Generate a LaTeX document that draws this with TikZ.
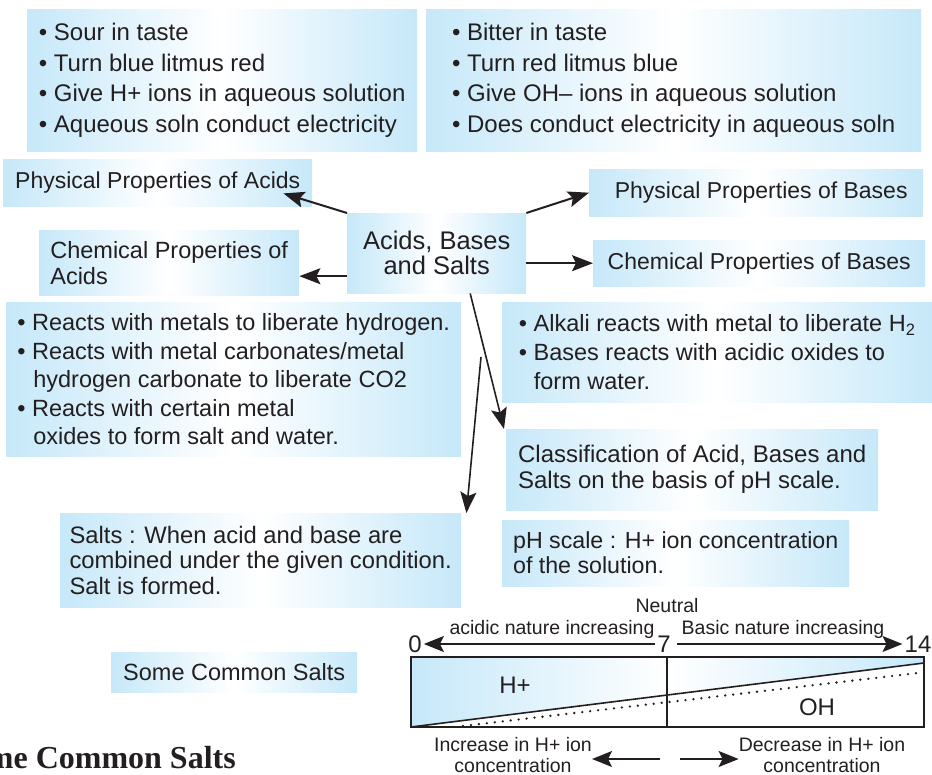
\documentclass[tikz,border=0pt]{standalone}
\usepackage{fontspec}
\setmainfont{Liberation Sans}
\newfontfamily\headserif{Liberation Serif}
\usetikzlibrary{arrows.meta, calc, positioning}
\definecolor{boxblue}{RGB}{198,232,249}
\definecolor{inkgray}{RGB}{35,31,32}

\begin{document}
\begin{tikzpicture}[x=1pt, y=-1pt,
    infobox/.style={anchor=north west, left color=boxblue, right color=boxblue, middle color=white, inner sep=0pt, align=left, text=inkgray},
    body/.style={font=\fontsize{23.5}{#1}\selectfont},
    wide/.style={font=\fontsize{24}{#1}\selectfont},
    link/.style={draw=inkgray, line width=2pt, -{Stealth[length=21pt, width=16pt, inset=4pt]}},
    thinlink/.style={link, line width=1.6pt},
    phlink/.style={draw=inkgray, line width=1.5pt, -{Stealth[length=20pt, width=16pt, inset=4pt]}},
    small/.style={text=inkgray, font=\fontsize{19.5}{20.5}\selectfont, inner sep=0pt, align=center},
    scalenum/.style={text=inkgray, font=\fontsize{24}{24}\selectfont, inner sep=2pt}]
    \path[use as bounding box, clip] (0,0) rectangle (932,775);

    % Physical property lists
    \node[infobox, wide=30.5, minimum width=390pt, minimum height=142pt] (acidList) at (27,9)
      {\textbullet\ Sour in taste\\ \textbullet\ Turn blue litmus red\\ \textbullet\ Give H+ ions in aqueous solution\\ \textbullet\ Aqueous soln conduct electricity};
    \node[infobox, wide=30.5, minimum width=495pt, minimum height=142pt] (baseList) at (426,9)
      {\textbullet\ Bitter in taste\\ \textbullet\ Turn red litmus blue\\ \textbullet\ Give OH– ions in aqueous solution\\ \textbullet\ Does conduct electricity in aqueous soln};

    % Headings round the centre
    \node[infobox, font=\fontsize{23}{26}\selectfont, minimum width=309pt, minimum height=47pt] (physA) at (3,159) {Physical Properties of Acids};
    \node[infobox, body=26, minimum width=260pt, minimum height=65pt] (chemA) at (39,230) {Chemical Properties of\\Acids};
    \node[infobox, font=\fontsize{25.5}{25}\selectfont, align=center, minimum width=179pt, minimum height=80pt] (core) at (347,213) {Acids, Bases\\and Salts};
    \node[infobox, font=\fontsize{23}{26}\selectfont, minimum width=334pt, minimum height=47pt] (physB) at (589,169) {\hspace*{10pt}Physical Properties of Bases};
    \node[infobox, font=\fontsize{23}{26}\selectfont, minimum width=332pt, minimum height=46pt] (chemB) at (593,240) {Chemical Properties of Bases};

    % Chemical property lists
    \node[infobox, body=28.5, minimum width=455pt, minimum height=154pt] (acidChem) at (6,302)
      {\textbullet\ Reacts with metals to liberate hydrogen.\\ \textbullet\ Reacts with metal carbonates/metal\\ \hspace*{16pt}hydrogen carbonate to liberate CO2\\ \textbullet\ Reacts with certain metal\\ \hspace*{16pt}oxides to form salt and water.};
    \node[infobox, body=29, minimum width=430pt, minimum height=100pt] (baseChem) at (502,302)
      {\textbullet\ Alkali reacts with metal to liberate H\textsubscript{2}\\ \textbullet\ Bases reacts with acidic oxides to\\ \hspace*{15pt}form water.};

    % Classification, salts, pH
    \node[infobox, wide=26, minimum width=372pt, minimum height=81pt] (classBox) at (506,429)
      {Classification of Acid, Bases and\\Salts on the basis of pH scale.};
    \node[infobox, font=\fontsize{23.8}{25.5}\selectfont, minimum width=401pt, minimum height=94pt] (salts) at (60,513)
      {Salts : When acid and base are\\combined under the given condition.\\Salt is formed.};
    \node[infobox, font=\fontsize{23.2}{25}\selectfont, minimum width=347pt, minimum height=66pt] (phDef) at (502,520)
      {pH scale : H+ ion concentration\\of the solution.};
    \node[infobox, body=26, minimum width=246pt, minimum height=40pt] (common) at (111,652) {Some Common Salts};

    % Connectors
    \coordinate (acidLeg) at ([yshift=-23pt]core.west);
    \coordinate (saltTail) at (481,357);
    \draw[link] (core.north west) -- ([shift={(-29,-13)}]physA.south east);
    \draw[link] (acidLeg) -- (acidLeg -| chemA.east);
    \draw[link] (core.north east) -- (physB.west);
    \draw[link] (core.east |- chemB.west) -- (chemB.west);
    \draw[thinlink] ([xshift=33.5pt]core.south) -- ([xshift=-2pt]classBox.north west);
    \draw[thinlink] (saltTail) -- ([xshift=5pt]salts.north east);

    % pH scale bar
    \shade[left color=boxblue, right color=boxblue, middle color=white] (411,657) -- (924,657) -- (924,663) -- (411,727) -- cycle;
    \draw[inkgray, line width=1.6pt] (411,727) -- (924,663);
    \draw[inkgray, line width=2.6pt, line cap=round, dash pattern=on 0pt off 8pt] (463,726) -- (918,673);
    \draw[inkgray, line width=2pt] (411,657) rectangle (924,727);
    \draw[inkgray, line width=2pt] (667,657) -- (667,727);
    \node[scalenum] (hplus) at (515,685) {H+};
    \node[scalenum] (ohminus) at (817,707) {OH};

    % Scale numbers and trends
    \node[small] (neutral) at (667,606) {Neutral};
    \node[scalenum] (zero) at (415,644) {0};
    \node[scalenum] (seven) at (664,644) {7};
    \node[scalenum] (fourteen) at (918,644) {14};
    \node[small] (acidTrend) at (552,629) {acidic nature increasing};
    \node[small] (baseTrend) at (783,629) {Basic nature increasing};
    \draw[phlink] (seven.west) -- (zero.east);
    \draw[phlink] ([xshift=4pt]seven.east) -- (fourteen.west);

    \node[small] (incr) at (513,755) {Increase in H+ ion\\concentration};
    \node[small] (decr) at (822,755) {Decrease in H+ ion\\concentration};
    \coordinate (incrTail) at (660,759);
    \coordinate (decrTail) at (680,759);
    \draw[phlink] (incrTail) -- (incrTail -| incr.east);
    \draw[phlink] (decrTail) -- (decrTail -| decr.west);

    % Section heading (cut by the page edge)
    \node[anchor=base east, inner sep=0pt, text=inkgray, font=\fontsize{32}{32}\headserif\bfseries] (heading) at (236,768) {Some Common Salts};
\end{tikzpicture}
\end{document}
